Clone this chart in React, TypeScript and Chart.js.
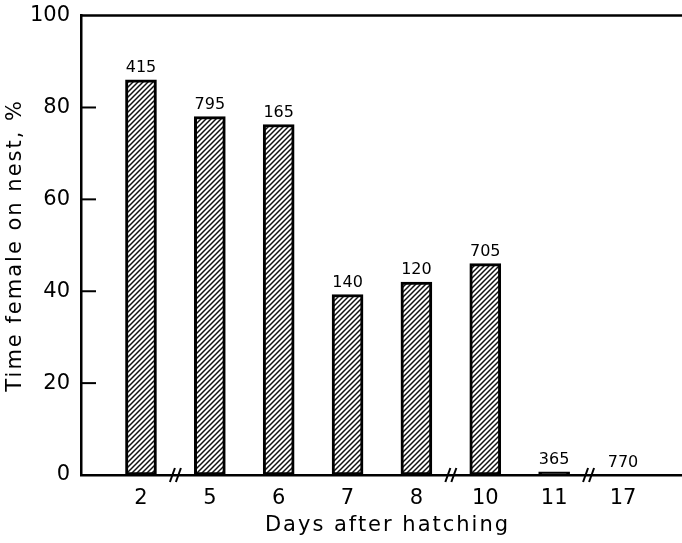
import React, { useEffect, useRef } from "react";
import { Chart, registerables } from "chart.js";

Chart.register(...registerables);

const categories = ["2", "5", "6", "7", "8", "10", "11", "17"];
const percentOnNest = [86, 78, 76.3, 39.3, 42, 46, 0.7, 0];
const sampleLabels = ["415", "795", "165", "140", "120", "705", "365", "770"];
const breakAfter = [0, 4, 6]; // axis breaks between index i and i+1
const yTicks = [0, 20, 40, 60, 80, 100];
const xTitle = "Days after hatching";
const yTitle = "Time female on nest, %";

const FONT = "'DejaVu Sans', sans-serif";

function makeHatch(): CanvasPattern | string {
  const s = 5;
  const c = document.createElement("canvas");
  c.width = s;
  c.height = s;
  const g = c.getContext("2d");
  if (!g) return "#fff";
  g.fillStyle = "#fff";
  g.fillRect(0, 0, s, s);
  g.strokeStyle = "#111";
  g.lineWidth = 1.5;
  g.beginPath();
  g.moveTo(0, s);
  g.lineTo(s, 0);
  g.moveTo(-1, 1);
  g.lineTo(1, -1);
  g.moveTo(s - 1, s + 1);
  g.lineTo(s + 1, s - 1);
  g.stroke();
  const p = g.createPattern(c, "repeat");
  return p || "#fff";
}

const decorPlugin = {
  id: "decor",
  afterDraw(chart: any) {
    const { ctx, chartArea } = chart;
    const x = chart.scales.x;
    const y = chart.scales.y;
    ctx.save();
    // top frame line
    ctx.strokeStyle = "#000";
    ctx.lineWidth = 2.5;
    ctx.beginPath();
    ctx.moveTo(chartArea.left - 1, chartArea.top);
    ctx.lineTo(chartArea.right, chartArea.top);
    ctx.stroke();
    // inside y ticks
    ctx.lineWidth = 2;
    yTicks.forEach((v) => {
      if (v === 0 || v === 100) return;
      const py = y.getPixelForValue(v);
      ctx.beginPath();
      ctx.moveTo(chartArea.left, py);
      ctx.lineTo(chartArea.left + 15, py);
      ctx.stroke();
    });
    // axis breaks
    ctx.lineWidth = 2;
    breakAfter.forEach((i) => {
      const px = x.getPixelForValue(i + 0.5);
      const py = chartArea.bottom;
      [-3, 3].forEach((d) => {
        ctx.beginPath();
        ctx.moveTo(px + d - 2.5, py + 7);
        ctx.lineTo(px + d + 2.5, py - 7);
        ctx.stroke();
      });
    });
    // sample-size labels
    const meta = chart.getDatasetMeta(0);
    ctx.fillStyle = "#000";
    ctx.font = `16px ${FONT}`;
    ctx.textAlign = "center";
    ctx.textBaseline = "bottom";
    meta.data.forEach((el: any, i: number) => {
      ctx.fillText(sampleLabels[i], el.x, el.y - 4);
    });
    // axis titles
    ctx.font = `21px ${FONT}`;
    (ctx as any).letterSpacing = "2px";
    ctx.textBaseline = "middle";
    ctx.fillText(xTitle, (chartArea.left + chartArea.right) / 2 + 6, 526);
    ctx.translate(16, (chartArea.top + chartArea.bottom) / 2);
    ctx.rotate(-Math.PI / 2);
    ctx.fillText(yTitle, 0, 0);
    ctx.restore();
  },
};

export default function App() {
  const ref = useRef<HTMLCanvasElement>(null);
  useEffect(() => {
    document.body.style.margin = "0";
    if (!ref.current) return;
    const hatch = makeHatch();
    const chart = new Chart(ref.current, {
      type: "bar",
      data: {
        datasets: [
          {
            data: percentOnNest.map((v, i) => ({ x: i, y: v })),
            backgroundColor: (c: any) => (c.raw && c.raw.y < 2 ? "#000" : (hatch as any)),
            borderColor: "#000",
            borderWidth: (c: any) => (c.raw && c.raw.y > 0 ? 3 : 0),
            borderSkipped: false,
            barThickness: 31,
          },
        ],
      },
      options: {
        animation: false,
        responsive: true,
        maintainAspectRatio: false,
        layout: { padding: { top: 15, right: 0, left: 0, bottom: 0 } },
        plugins: { legend: { display: false }, tooltip: { enabled: false } },
        scales: {
          x: {
            type: "linear",
            offset: false,
            min: -0.871,
            max: 7.857,
            grid: { display: false },
            border: { display: true, color: "#000", width: 2.5 },
            afterBuildTicks: (s: any) => {
              s.ticks = categories.map((_, i) => ({ value: i }));
            },
            afterFit: (s: any) => {
              s.height = 68;
            },
            ticks: {
              autoSkip: false,
              maxRotation: 0,
              padding: 3,
              color: "#000",
              font: { family: FONT, size: 21 },
              callback: (v: any) => categories[v] ?? "",
            },
          },
          y: {
            min: 0,
            max: 100,
            grid: { display: false },
            border: { display: true, color: "#000", width: 2.5 },
            afterBuildTicks: (s: any) => {
              s.ticks = yTicks.map((v) => ({ value: v }));
            },
            afterFit: (s: any) => {
              s.width = 81;
            },
            ticks: {
              padding: 3,
              color: "#000",
              font: { family: FONT, size: 21 },
            },
          },
        },
      },
      plugins: [decorPlugin],
    } as any);
    return () => chart.destroy();
  }, []);
  return (
    <div style={{ width: 682, height: 543, position: "relative", background: "#fff" }}>
      <canvas ref={ref} />
    </div>
  );
}
